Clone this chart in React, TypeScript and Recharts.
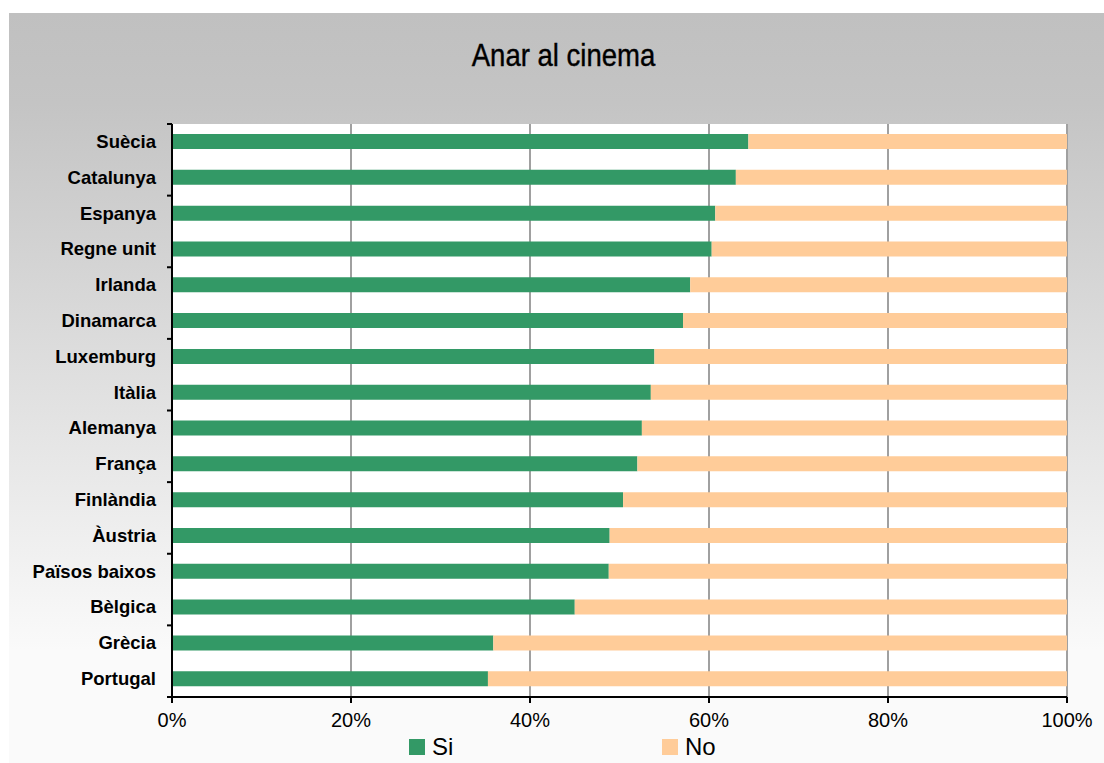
import { BarChart, Bar, XAxis, YAxis, CartesianGrid } from "recharts";

const countries = [
  "Suècia",
  "Catalunya",
  "Espanya",
  "Regne unit",
  "Irlanda",
  "Dinamarca",
  "Luxemburg",
  "Itàlia",
  "Alemanya",
  "França",
  "Finlàndia",
  "Àustria",
  "Països baixos",
  "Bèlgica",
  "Grècia",
  "Portugal",
];
const siValues = [64.4, 63.0, 60.7, 60.3, 57.9, 57.1, 53.9, 53.5, 52.5, 52.0, 50.4, 48.9, 48.8, 45.0, 35.9, 35.3];
const noValues = [35.6, 37.0, 39.3, 39.7, 42.1, 42.9, 46.1, 46.5, 47.5, 48.0, 49.6, 51.1, 51.2, 55.0, 64.1, 64.7];
const xTicks = [0, 20, 40, 60, 80, 100];

const data = countries.map((name, i) => ({ name, si: siValues[i], no: noValues[i] }));

const GREEN = "#339966";
const ORANGE = "#ffcc99";

const CountryTick = (props: any) => {
  const { x, y, payload, index } = props;
  const half = payload?.offset ?? 17.9;
  const axisX = x + 16;
  const last = index === countries.length - 1;
  return (
    <g>
      {index % 2 === 0 && (
        <line x1={axisX - 5} x2={axisX} y1={y - half} y2={y - half} stroke="#000" strokeWidth={2} />
      )}
      {last && <line x1={axisX - 5} x2={axisX} y1={y + half} y2={y + half} stroke="#000" strokeWidth={2} />}
      <text
        x={x}
        y={y}
        dy={6}
        textAnchor="end"
        fontFamily="Arial, 'Liberation Sans', sans-serif"
        fontWeight="bold"
        fontSize={18.5}
        fill="#000"
      >
        {payload.value}
      </text>
    </g>
  );
};

export default function App() {
  return (
    <>
      <style>{`body{margin:0;overflow:hidden}`}</style>
      <div
        style={{
          position: "absolute",
          left: 9,
          top: 13,
          width: 1095,
          height: 750,
          background: "linear-gradient(#c0c0c0 0%, #c4c4c4 12%, #fafafa 85%, #fafafa 100%)",
          fontFamily: "Arial, 'Liberation Sans', sans-serif",
          overflow: "hidden",
        }}
      >
        <div
          style={{
            position: "absolute",
            left: 0,
            top: 24,
            width: 1109,
            textAlign: "center",
            fontSize: 32,
            color: "#000",
            transform: "scaleX(0.86)",
            WebkitTextStroke: "0.4px #000",
          }}
        >
          Anar al cinema
        </div>
        <BarChart
          width={1095}
          height={750}
          data={data}
          layout="vertical"
          margin={{ top: 111, right: 37, bottom: 26, left: 0 }}
          barSize={15}
        >
          <CartesianGrid horizontal={false} stroke="#a0a0a0" strokeWidth={2} fill="#ffffff" />
          <XAxis
            type="number"
            domain={[0, 100]}
            ticks={xTicks}
            tickFormatter={(v) => `${v}%`}
            axisLine={{ stroke: "#000", strokeWidth: 2 }}
            tickLine={{ stroke: "#000", strokeWidth: 2 }}
            tickSize={6}
            tickMargin={10}
            height={40}
            tick={{ fontSize: 20, fill: "#000", fontFamily: "Arial, 'Liberation Sans', sans-serif" }}
          />
          <YAxis
            type="category"
            dataKey="name"
            width={163}
            axisLine={{ stroke: "#000", strokeWidth: 2 }}
            tickLine={false}
            tickSize={0}
            tickMargin={16}
            interval={0}
            tick={<CountryTick />}
          />
          <Bar dataKey="si" stackId="a" fill={GREEN} isAnimationActive={false} />
          <Bar dataKey="no" stackId="a" fill={ORANGE} isAnimationActive={false} />
        </BarChart>
        <div style={{ position: "absolute", left: 400, top: 723, display: "flex", alignItems: "center", fontSize: 24, lineHeight: "22px", color: "#000" }}>
          <span style={{ display: "inline-block", width: 16, height: 16, background: GREEN, marginRight: 7 }} />
          <span>Si</span>
        </div>
        <div style={{ position: "absolute", left: 653, top: 723, display: "flex", alignItems: "center", fontSize: 24, lineHeight: "22px", color: "#000" }}>
          <span style={{ display: "inline-block", width: 16, height: 16, background: ORANGE, marginRight: 7 }} />
          <span>No</span>
        </div>
      </div>
    </>
  );
}
